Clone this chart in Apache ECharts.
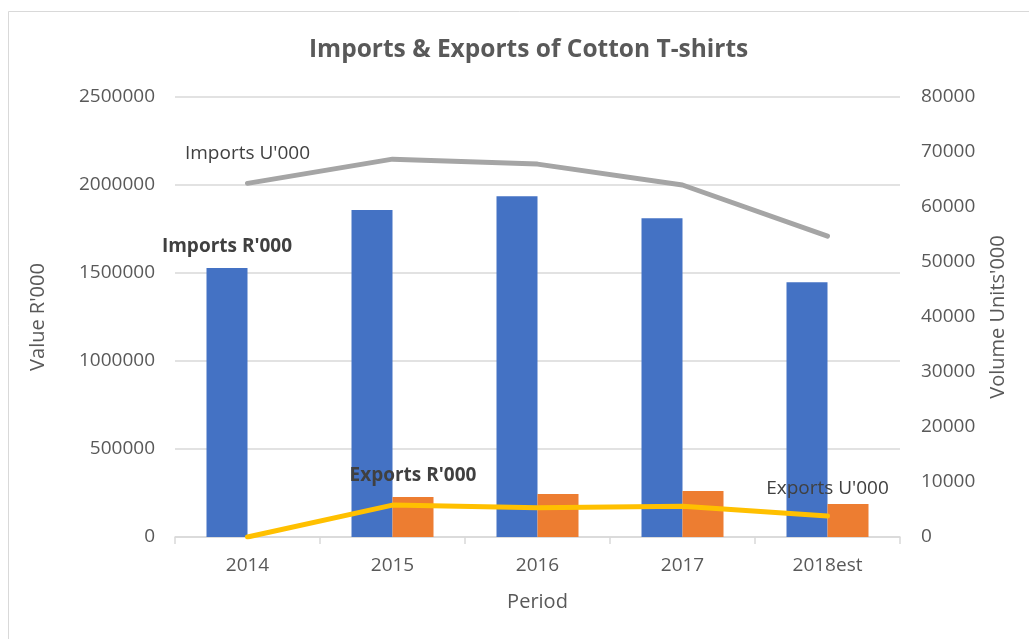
<!DOCTYPE html>
<html>
<head>
<meta charset="utf-8">
<script src="https://cdn.jsdelivr.net/npm/echarts@6/dist/echarts.min.js"></script>
<style>
  html, body { margin: 0; padding: 0; background: #fff; }
  #chart { width: 1029px; height: 639px; }
</style>
</head>
<body>
<div id="chart"></div>
<script>
// Periods on the category axis
const periods = ['2014', '2015', '2016', '2017', '2018est'];
// Values in R'000 (left axis)
const importsValue = [1528000, 1858000, 1936000, 1811000, 1447000];
const exportsValue = [0, 227000, 244000, 261000, 187000];
// Volumes in Units'000 (right axis)
const importsVolume = [64300, 68700, 67800, 64000, 54700];
const exportsVolume = [0, 5800, 5300, 5600, 3800];

const FONT = '"Open Sans", "Liberation Sans", sans-serif';
const TEXT = '#595959';
const GRID = '#d9d9d9';

// Attach a series-name label to one point of a series
function withLabel(values, index, text, opts) {
  return values.map((v, i) => i === index
    ? { value: v, label: Object.assign({ show: true, formatter: text, fontFamily: FONT, fontSize: 19, color: '#404040' }, opts) }
    : v);
}

const plain = v => String(v);

const chart = echarts.init(document.getElementById('chart'), null, { renderer: 'canvas' });

chart.setOption({
  animation: false,
  backgroundColor: '#fff',
  textStyle: { fontFamily: FONT },
  title: {
    text: 'Imports & Exports of Cotton T-shirts',
    left: 304,
    top: 33,
    textStyle: { fontFamily: FONT, fontSize: 24.5, fontWeight: 'bold', color: TEXT }
  },
  graphic: [{
    type: 'rect',
    shape: { x: 8.5, y: 11.5, width: 1040, height: 660 },
    style: { fill: 'none', stroke: GRID, lineWidth: 1 },
    silent: true
  }],
  grid: { left: 175, right: 129, top: 97, bottom: 102, containLabel: false },
  xAxis: {
    type: 'category',
    data: periods,
    name: 'Period',
    nameLocation: 'middle',
    nameGap: 55,
    nameTextStyle: { fontFamily: FONT, fontSize: 20, color: TEXT },
    axisLine: { lineStyle: { color: GRID, width: 1.5 } },
    axisTick: { show: true, alignWithLabel: false, length: 7, lineStyle: { color: GRID, width: 1.5 } },
    axisLabel: { margin: 19, fontFamily: FONT, fontSize: 19, color: TEXT }
  },
  yAxis: [{
    type: 'value',
    min: 0, max: 2500000, interval: 500000,
    name: "Value R'000",
    nameLocation: 'middle',
    nameRotate: 90,
    nameGap: 127,
    nameTextStyle: { fontFamily: FONT, fontSize: 20, color: TEXT },
    axisLine: { show: false },
    axisTick: { show: false },
    axisLabel: { margin: 20, fontFamily: FONT, fontSize: 19, color: TEXT, formatter: plain },
    splitLine: { lineStyle: { color: GRID, width: 1.5 } }
  }, {
    type: 'value',
    min: 0, max: 80000, interval: 10000,
    name: "Volume Units'000",
    nameLocation: 'middle',
    nameRotate: 90,
    nameGap: 88,
    nameTextStyle: { fontFamily: FONT, fontSize: 20, color: TEXT },
    axisLine: { show: false },
    axisTick: { show: false },
    axisLabel: { margin: 21, fontFamily: FONT, fontSize: 19, color: TEXT, formatter: plain },
    splitLine: { show: false }
  }],
  series: [{
    name: "Imports R'000",
    type: 'bar',
    yAxisIndex: 0,
    barWidth: 41,
    barGap: '0%',
    itemStyle: { color: '#4472c4' },
    data: withLabel(importsValue, 0, "Imports R'000", { position: 'top', distance: 12, fontWeight: 'bold' })
  }, {
    name: "Exports R'000",
    type: 'bar',
    yAxisIndex: 0,
    barWidth: 41,
    barGap: '0%',
    itemStyle: { color: '#ed7d31' },
    data: withLabel(exportsValue, 1, "Exports R'000", { position: 'top', distance: 12, fontWeight: 'bold' })
  }, {
    name: "Imports U'000",
    type: 'line',
    yAxisIndex: 1,
    symbol: 'circle',
    symbolSize: 1,
    showSymbol: true,
    z: 5,
    lineStyle: { color: '#a5a5a5', width: 5, cap: 'round', join: 'round' },
    itemStyle: { color: 'rgba(0,0,0,0)', borderWidth: 0 },
    data: withLabel(importsVolume, 0, "Imports U'000", { position: 'top', distance: 20, fontWeight: 'normal' })
  }, {
    name: "Exports U'000",
    type: 'line',
    yAxisIndex: 1,
    symbol: 'circle',
    symbolSize: 1,
    showSymbol: true,
    z: 5,
    lineStyle: { color: '#ffc000', width: 5, cap: 'round', join: 'round' },
    itemStyle: { color: 'rgba(0,0,0,0)', borderWidth: 0 },
    data: withLabel(exportsVolume, 4, "Exports U'000", { position: 'top', distance: 18, fontWeight: 'normal' })
  }]
});
</script>
</body>
</html>
